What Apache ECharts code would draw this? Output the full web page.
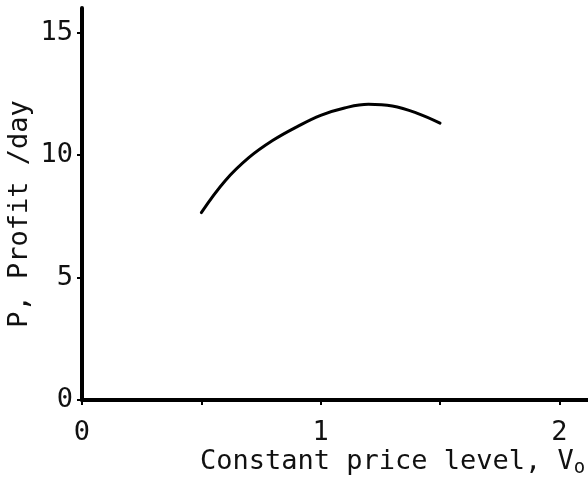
<!DOCTYPE html>
<html>
<head>
<meta charset="utf-8">
<script src="https://cdn.jsdelivr.net/npm/echarts@6/dist/echarts.min.js"></script>
<style>
  html, body { margin: 0; padding: 0; background: #fff; }
  #chart { width: 588px; height: 479px; }
</style>
</head>
<body>
<div id="chart"></div>
<script>
// Profit per day against constant price level V0
const priceLevel = [0.5, 0.6, 0.7, 0.8, 0.9, 1.0, 1.1, 1.2, 1.3, 1.4, 1.5];
const profitPerDay = [7.65, 8.95, 9.9, 10.6, 11.15, 11.62, 11.92, 12.07, 12.0, 11.72, 11.3];

const xTicks = [0, 0.5, 1, 1.5, 2];
const xTickLabels = [0, 1, 2];
const yTicks = [0, 5, 10, 15];

const xTitle = 'Constant price level, V';
const xTitleSub = 'o';
const yTitle = 'P, Profit /day';

const FONT = '"DejaVu Sans Mono", "Liberation Mono", monospace';

const chart = echarts.init(document.getElementById('chart'), null, { renderer: 'canvas' });

chart.setOption({
  animation: false,
  backgroundColor: '#ffffff',
  grid: { left: 82, right: 0, top: 8, bottom: 79, containLabel: false },
  xAxis: {
    type: 'value',
    min: 0,
    max: 2.12,
    splitLine: { show: false },
    axisLine: { show: true, onZero: false, lineStyle: { color: '#000', width: 4 } },
    axisTick: { show: true, customValues: xTicks, length: 5, inside: false, lineStyle: { color: '#000', width: 2 } },
    axisLabel: {
      customValues: xTickLabels,
      margin: 19,
      color: '#111',
      fontFamily: FONT,
      fontSize: 27
    }
  },
  yAxis: {
    type: 'value',
    min: 0,
    max: 16,
    splitLine: { show: false },
    axisLine: { show: true, onZero: false, lineStyle: { color: '#000', width: 4 } },
    axisTick: { show: true, customValues: yTicks, length: 5, inside: false, lineStyle: { color: '#000', width: 2 } },
    axisLabel: {
      customValues: yTicks,
      margin: 9,
      color: '#111',
      fontFamily: FONT,
      fontSize: 27
    }
  },
  graphic: [
    {
      type: 'text',
      x: 200,
      y: 462,
      style: {
        text: '{m|' + xTitle + '}{s|' + xTitleSub + '}',
        verticalAlign: 'middle',
        align: 'left',
        rich: {
          m: { fontFamily: FONT, fontSize: 27, fill: '#111', lineHeight: 32 },
          s: { fontFamily: FONT, fontSize: 19, fill: '#111', lineHeight: 20, verticalAlign: 'bottom' }
        }
      }
    },
    {
      type: 'text',
      x: 20,
      y: 214,
      rotation: Math.PI / 2,
      style: {
        text: yTitle,
        align: 'center',
        verticalAlign: 'middle',
        fontFamily: FONT,
        fontSize: 27,
        fill: '#111'
      }
    }
  ],
  series: [
    {
      type: 'line',
      data: priceLevel.map((v, i) => [v, profitPerDay[i]]),
      smooth: 0.4,
      showSymbol: false,
      symbol: 'none',
      lineStyle: { color: '#000', width: 3, cap: 'round' }
    }
  ]
});
</script>
</body>
</html>
